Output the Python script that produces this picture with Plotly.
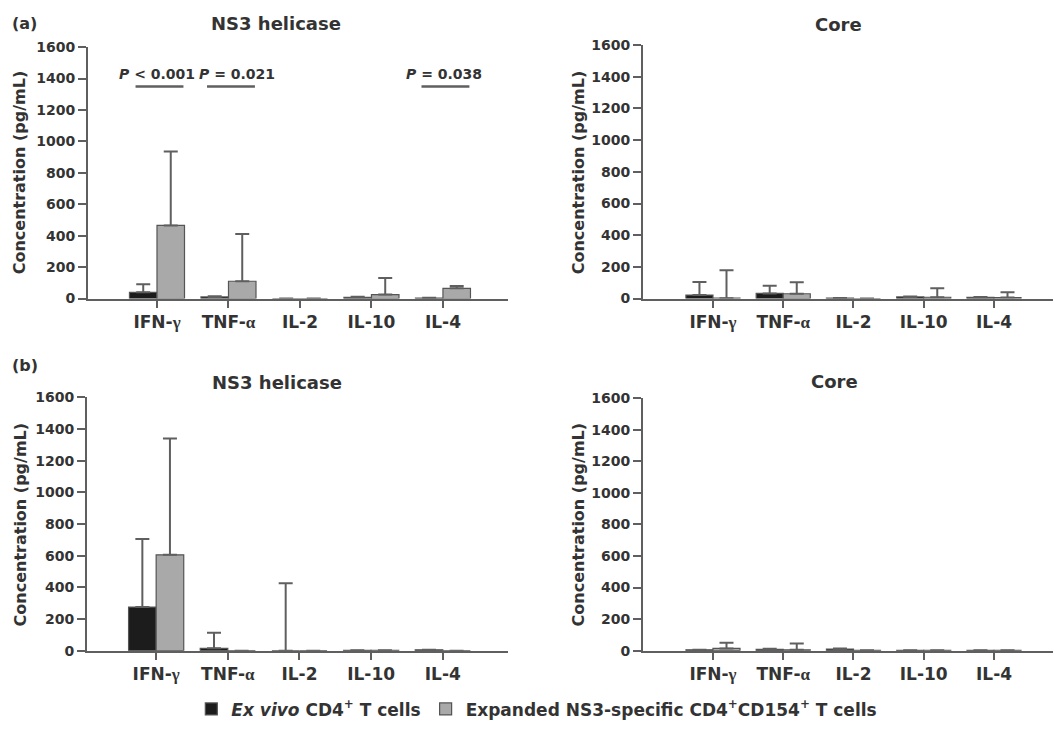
import plotly.graph_objects as go

# ---------------- data ----------------
categories = ["IFN-γ", "TNF-α", "IL-2", "IL-10", "IL-4"]
tick_labels = ["IFN-<span style='font-family:Liberation Serif'>γ</span>",
               "TNF-<span style='font-family:Liberation Serif'>α</span>",
               "IL-2", "IL-10", "IL-4"]
yticks = [0, 200, 400, 600, 800, 1000, 1200, 1400, 1600]

series_names = ["<i>Ex vivo</i> CD4<sup>+</sup> T cells",
                "Expanded NS3-specific CD4<sup>+</sup>CD154<sup>+</sup> T cells"]

# (a) NS3 helicase
a_ns3_exvivo = [40, 10, 0, 8, 3]
a_ns3_exvivo_err = [50, 5, 0, 4, 2]
a_ns3_expanded = [465, 110, 0, 25, 65]
a_ns3_expanded_err = [470, 300, 0, 105, 15]
# (a) Core
a_core_exvivo = [22, 32, 3, 10, 8]
a_core_exvivo_err = [83, 48, 0, 2, 2]
a_core_expanded = [2, 30, 0, 8, 6]
a_core_expanded_err = [176, 72, 0, 57, 34]
# (b) NS3 helicase
b_ns3_exvivo = [275, 15, 0, 2, 5]
b_ns3_exvivo_err = [430, 98, 425, 0, 0]
b_ns3_expanded = [605, 0, 0, 2, 0]
b_ns3_expanded_err = [735, 0, 0, 0, 0]
# (b) Core
b_core_exvivo = [5, 8, 10, 2, 2]
b_core_exvivo_err = [0, 4, 4, 0, 0]
b_core_expanded = [14, 5, 2, 2, 2]
b_core_expanded_err = [36, 40, 0, 0, 0]

# significance labels for panel (a) NS3 helicase: (category index, text)
sig_cats = [0, 1, 4]
sig_texts = ["<i>P</i> &lt; 0.001", "<i>P</i> = 0.021", "<i>P</i> = 0.038"]
sig_level = 1350

# ---------------- style ----------------
W, H = 1063, 732
FONT = "DejaVu Sans"
TXT = "#333333"
LINE = "#5f5f5f"
BLACK = "#1c1c1c"
GRAY = "#a9a9a9"

def px(x):
    return x / W

def py(y):
    return 1 - y / H

panels = [
    ("x", "y", (88, 508), (40, 297), (-0.965, 4.91),
     a_ns3_exvivo, a_ns3_exvivo_err, a_ns3_expanded, a_ns3_expanded_err),
    ("x2", "y2", (643, 1053), (38, 297), (-0.996, 4.84),
     a_core_exvivo, a_core_exvivo_err, a_core_expanded, a_core_expanded_err),
    ("x3", "y3", (87, 508), (398, 657), (-0.965, 4.91),
     b_ns3_exvivo, b_ns3_exvivo_err, b_ns3_expanded, b_ns3_expanded_err),
    ("x4", "y4", (643, 1053), (399, 657), (-0.996, 4.84),
     b_core_exvivo, b_core_exvivo_err, b_core_expanded, b_core_expanded_err),
]

fig = go.Figure()
xidx = list(range(len(categories)))
layout_axes = {}
for i, (xa, ya, xd, yd, xr, m1, e1, m2, e2) in enumerate(panels):
    for j, (vals, errs, col) in enumerate([(m1, e1, BLACK), (m2, e2, GRAY)]):
        fig.add_trace(go.Bar(
            x=xidx, y=vals, xaxis=xa, yaxis=ya,
            name=series_names[j], legendgroup=str(j), showlegend=(i == 0),
            offsetgroup=str(j),
            marker=dict(color=col, line=dict(color="#555555", width=1.2)),
            error_y=dict(type="data", array=errs, arrayminus=[0] * len(errs),
                         symmetric=False, color=LINE, thickness=2, width=7),
            hovertext=categories,
        ))
    xkey = "xaxis" + xa[1:]
    ykey = "yaxis" + ya[1:]
    layout_axes[xkey] = dict(
        domain=[px(xd[0]), px(xd[1])], anchor=ya, range=list(xr),
        tickmode="array", tickvals=xidx, ticktext=tick_labels,
        showline=True, linecolor=LINE, linewidth=2,
        ticks="outside", ticklen=7, tickwidth=2, tickcolor=LINE,
        showgrid=False, zeroline=False,
        tickfont=dict(family=FONT, size=17, color=TXT, weight="bold"),
    )
    layout_axes[ykey] = dict(
        domain=[py(yd[1]), py(yd[0])], anchor=xa, range=[0, 1600],
        tickmode="array", tickvals=yticks,
        showline=True, linecolor=LINE, linewidth=2,
        ticks="outside", ticklen=8, tickwidth=2, tickcolor=LINE,
        showgrid=False, zeroline=False,
        tickfont=dict(family=FONT, size=14, color=TXT, weight="bold"),
    )

annotations = []
def txt(x, y, s, size, **kw):
    annotations.append(dict(x=px(x), y=py(y), xref="paper", yref="paper",
                            text=s, showarrow=False,
                            font=dict(family=FONT, size=size, color=TXT, weight="bold"),
                            **kw))

txt(10, 16, "(a)", 16, xanchor="left", yanchor="middle")
txt(10, 365, "(b)", 16, xanchor="left", yanchor="middle")
txt(276, 16, "NS3 helicase", 18, xanchor="center", yanchor="middle")
txt(838, 17, "Core", 18, xanchor="center", yanchor="middle")
txt(277, 383, "NS3 helicase", 18, xanchor="center", yanchor="middle")
txt(834, 382, "Core", 18, xanchor="center", yanchor="middle")
for (xc, yc) in [(19, 168), (578, 168), (20, 528), (578, 528)]:
    txt(xc, yc, "Concentration (pg/mL)", 16, xanchor="center", yanchor="middle",
        textangle=-90)

shapes = []
text_shift = [0.0, 0.12, 0.02]
for k, (c, s) in enumerate(zip(sig_cats, sig_texts)):
    shapes.append(dict(type="line", xref="x", yref="y",
                       x0=c - 0.30, x1=c + 0.37, y0=sig_level, y1=sig_level,
                       line=dict(color=LINE, width=2.5)))
    annotations.append(dict(x=c + text_shift[k], y=sig_level + 82, xref="x", yref="y",
                            text=s, showarrow=False, xanchor="center", yanchor="middle",
                            font=dict(family=FONT, size=14, color=TXT, weight="bold")))

fig.update_layout(
    width=W, height=H,
    margin=dict(l=0, r=0, t=0, b=0),
    paper_bgcolor="white", plot_bgcolor="white",
    barmode="group", bargap=0.23, bargroupgap=0,
    annotations=annotations, shapes=shapes,
    legend=dict(orientation="h", x=0.505, xanchor="center", y=py(717), yanchor="middle",
                font=dict(family=FONT, size=17, color=TXT, weight="bold"),
                itemwidth=30, tracegroupgap=0, traceorder="normal"),
    font=dict(family=FONT, color=TXT),
    **layout_axes,
)

fig.write_html("out.html")
